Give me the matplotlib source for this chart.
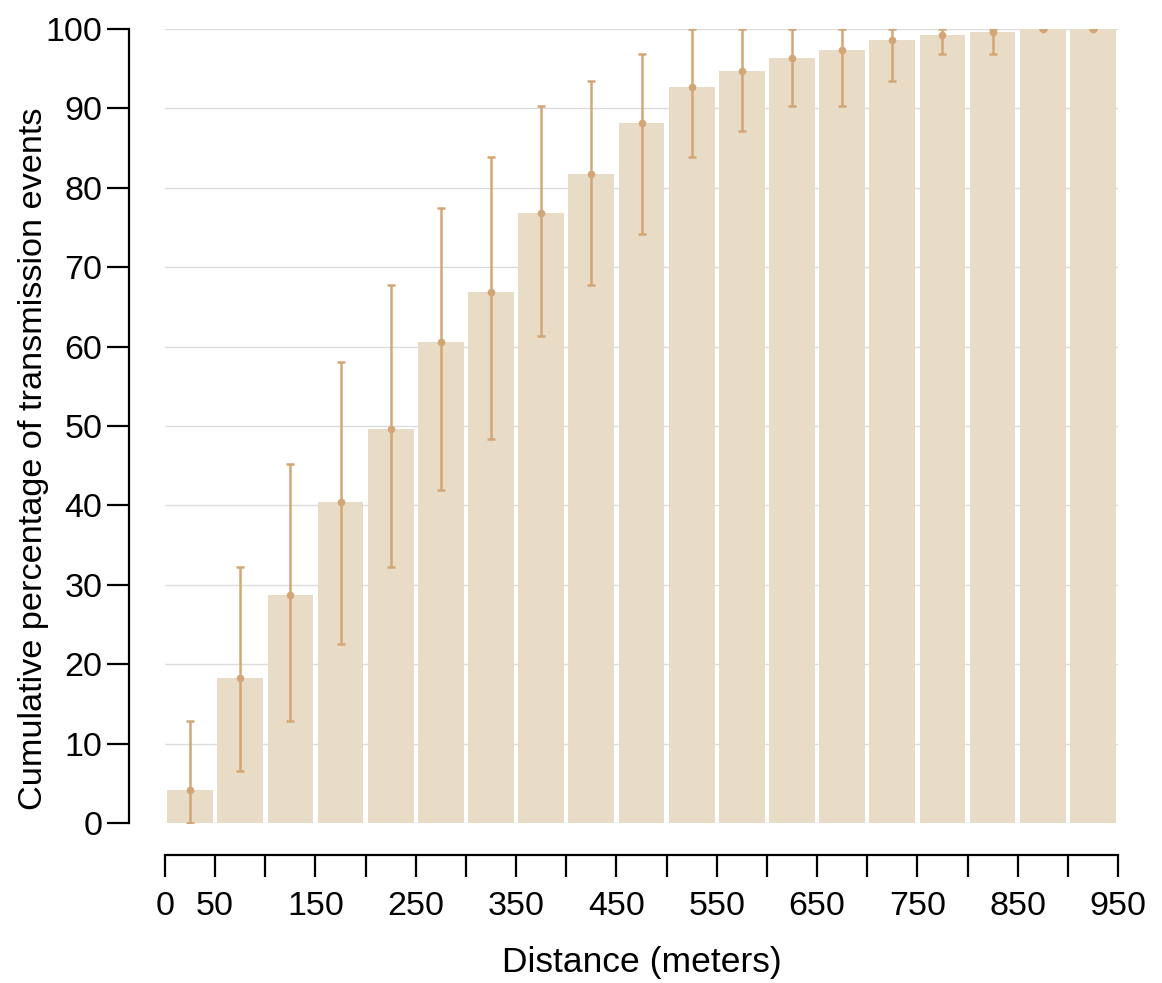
import matplotlib
matplotlib.use("Agg")
import matplotlib.pyplot as plt
import numpy as np

plt.rcParams['font.family'] = ['Liberation Sans', 'DejaVu Sans']

bin_starts = [0, 50, 100, 150, 200, 250, 300, 350, 400, 450, 500, 550, 600, 650, 700, 750, 800, 850, 900]
cum_pct = [4.2, 18.3, 28.7, 40.4, 49.6, 60.6, 66.9, 76.8, 81.8, 88.2, 92.7, 94.7, 96.4, 97.3, 98.6, 99.2, 99.6, 100.0, 100.0]
ci_low = [0.0, 6.5, 12.9, 22.6, 32.3, 41.9, 48.4, 61.3, 67.7, 74.2, 83.9, 87.1, 90.3, 90.3, 93.5, 96.8, 96.8, 100.0, 100.0]
ci_high = [12.9, 32.3, 45.2, 58.1, 67.8, 77.4, 83.9, 90.3, 93.5, 96.8, 100.0, 100.0, 100.0, 100.0, 100.0, 100.0, 100.0, 100.0, 100.0]
x_ticks = [0, 50, 100, 150, 200, 250, 300, 350, 400, 450, 500, 550, 600, 650, 700, 750, 800, 850, 900, 950]
x_tick_labels = ['0', '50', '', '150', '', '250', '', '350', '', '450', '', '550', '', '650', '', '750', '', '850', '', '950']
y_ticks = [0, 10, 20, 30, 40, 50, 60, 70, 80, 90, 100]

W, H = 1162, 983
fig = plt.figure(figsize=(W / 100, H / 100), dpi=100)
left, right = 165 / W, 1118 / W
bottom, top = (H - 823) / H, (H - 29) / H
ax = fig.add_axes([left, bottom, right - left, top - bottom])

bar_color = '#E8DCC6'
err_color = '#D3A676'

starts = np.array(bin_starts, dtype=float)
centers = starts + 25
vals = np.array(cum_pct)
lo = np.array(ci_low)
hi = np.array(ci_high)

ax.bar(starts + 2.2, vals, width=45.6, align='edge', color=bar_color, zorder=2, linewidth=0)
ax.errorbar(centers, vals, yerr=[vals - lo, hi - vals], fmt='o', color=err_color,
            ms=4.5, elinewidth=1.8, capsize=2.8, capthick=1.8, zorder=3)

ax.set_xlim(0, 950)
ax.set_ylim(0, 100)

for y in y_ticks:
    ax.axhline(y, color='#dcdcdc', lw=1.0, zorder=1)

for s in ['top', 'right']:
    ax.spines[s].set_visible(False)
ax.spines['left'].set_position(('outward', 26))
ax.spines['left'].set_bounds(0, 100)
ax.spines['bottom'].set_position(('outward', 23))
ax.spines['bottom'].set_bounds(0, 950)
for s in ['left', 'bottom']:
    ax.spines[s].set_linewidth(1.6)

ax.set_yticks(y_ticks)
ax.set_xticks(x_ticks)
ax.set_xticklabels(x_tick_labels)
ax.tick_params(axis='both', length=16, width=1.6, labelsize=24.5)
ax.tick_params(axis='x', pad=10)
ax.tick_params(axis='y', pad=3)

ax.set_xlabel('Distance (meters)', fontsize=25.5, labelpad=17)
ax.set_ylabel('Cumulative percentage of transmission events', fontsize=24.7)
ax.yaxis.set_label_coords((49 - 165) / 953, (823 - 459) / 794)

fig.savefig('out.png', dpi=100)
